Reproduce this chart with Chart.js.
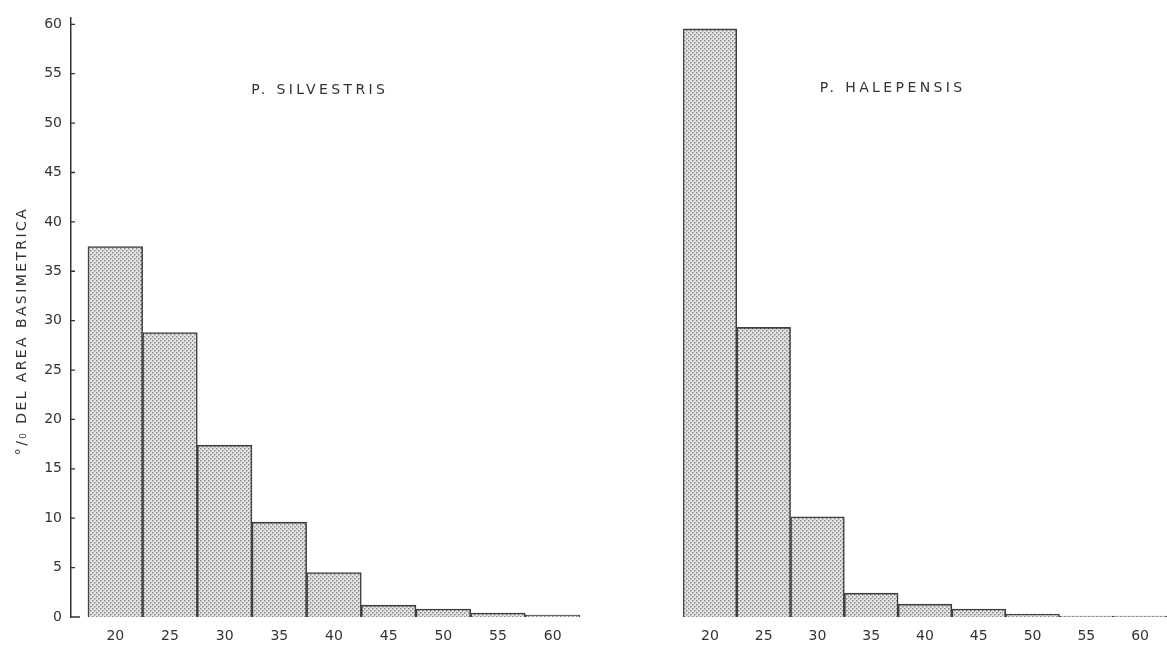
<!DOCTYPE html>
<html>
<head>
<meta charset="utf-8">
<script src="https://cdn.jsdelivr.net/npm/chart.js@4.4.1/dist/chart.umd.min.js"></script>
<style>
  body { margin: 0; background: #fff; }
  #left-box { position: absolute; left: 0; top: 0; width: 586px; height: 645px; }
  #right-box { position: absolute; left: 596px; top: 0; width: 571px; height: 645px; }
</style>
</head>
<body>
<div id="left-box"><canvas id="silvestris"></canvas></div>
<div id="right-box"><canvas id="halepensis"></canvas></div>
<script>
const diameterClasses = [20, 25, 30, 35, 40, 45, 50, 55, 60];
const silvestrisValues = [37.5, 28.8, 17.4, 9.6, 4.5, 1.2, 0.8, 0.4, 0.2];
const halepensisValues = [59.3, 29.2, 10.1, 2.4, 1.3, 0.8, 0.3, 0.1, 0.1];
const yTicks = [0, 5, 10, 15, 20, 25, 30, 35, 40, 45, 50, 55, 60];
const yTitle = "°/₀ DEL AREA BASIMETRICA";

const ink = "#333333";
const tickFont = { family: "DejaVu Sans", size: 14 };

function makeStipple() {
  const c = document.createElement("canvas");
  c.width = 4;
  c.height = 4;
  const g = c.getContext("2d");
  g.fillStyle = "#e4e4e4";
  g.fillRect(0, 0, 4, 4);
  g.fillStyle = "#8a8a8a";
  g.fillRect(0, 0, 1.5, 1.5);
  g.fillRect(2, 2, 1.5, 1.5);
  return g.createPattern(c, "repeat");
}
const stipple = makeStipple();

// panel name written inside the plot, plus the y axis decoration on the left panel
const decorations = {
  id: "decorations",
  afterDraw(chart, args, opts) {
    const { ctx } = chart;
    const x = chart.scales.x;
    const y = chart.scales.y;
    ctx.save();
    ctx.fillStyle = ink;
    ctx.font = "14px 'DejaVu Sans'";
    ctx.letterSpacing = "3.4px";
    ctx.textAlign = "center";
    ctx.textBaseline = "middle";
    ctx.fillText(opts.name, x.getPixelForValue(opts.nameX), y.getPixelForValue(53.3));

    if (opts.axis) {
      const left = chart.chartArea.left;
      ctx.strokeStyle = ink;
      ctx.lineWidth = 1.3;
      ctx.beginPath();
      for (const v of yTicks) {
        const py = y.getPixelForValue(v);
        ctx.moveTo(left, py);
        ctx.lineTo(left + (v === 0 ? 9 : 4), py);
      }
      ctx.stroke();

      ctx.translate(22, 331);
      ctx.rotate(-Math.PI / 2);
      ctx.letterSpacing = "2.4px";
      ctx.fillText(yTitle, 0, 0);
    }
    ctx.restore();
  },
};

function buildChart(canvas, values, withAxis, name, nameX, padLeft) {
  return new Chart(canvas, {
    type: "bar",
    data: {
      datasets: [
        {
          data: diameterClasses.map((d, i) => ({ x: d, y: values[i] })),
          backgroundColor: stipple,
          borderColor: "#404040",
          borderWidth: 1.6,
          barPercentage: 1,
          categoryPercentage: 1,
        },
      ],
    },
    options: {
      responsive: true,
      maintainAspectRatio: false,
      animation: false,
      layout: { padding: { top: 15, left: padLeft, right: withAxis ? 6 : 0, bottom: 0 } },
      plugins: {
        legend: { display: false },
        tooltip: { enabled: false },
        decorations: { name: name, nameX: nameX, axis: withAxis },
      },
      scales: {
        x: {
          type: "linear",
          offset: false,
          min: withAxis ? 15.95 : 17.5,
          max: 62.5,
          afterBuildTicks: (scale) => {
            scale.ticks = diameterClasses.map((v) => ({ value: v }));
          },
          afterFit: (scale) => {
            scale.height = 28;
          },
          grid: { display: false, drawTicks: false },
          border: { display: false },
          ticks: { color: ink, font: tickFont, padding: 11, maxRotation: 0 },
        },
        y: {
          display: withAxis,
          min: 0,
          max: 60.7,
          afterBuildTicks: (scale) => {
            scale.ticks = yTicks.map((v) => ({ value: v }));
          },
          afterFit: (scale) => {
            scale.width = withAxis ? 71 : 0;
          },
          grid: { display: false, drawTicks: false },
          border: { display: true, color: ink, width: 1.5 },
          ticks: { color: ink, font: tickFont, padding: 9 },
        },
      },
    },
    plugins: [decorations],
  });
}

const silvestrisChart = buildChart(
  document.getElementById("silvestris"),
  silvestrisValues,
  true,
  "P. SILVESTRIS",
  38.7,
  0
);
const halepensisChart = buildChart(
  document.getElementById("halepensis"),
  halepensisValues,
  false,
  "P. HALEPENSIS",
  37,
  87
);
</script>
</body>
</html>
